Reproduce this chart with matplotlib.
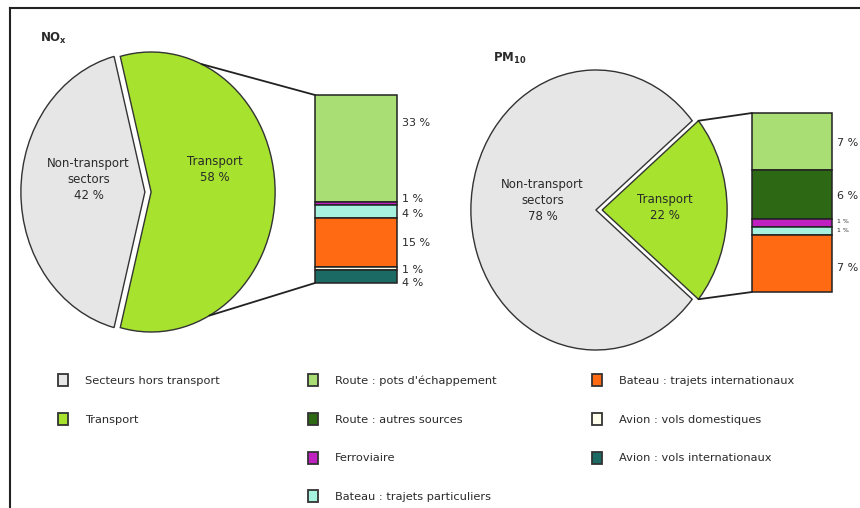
import numpy as np
import matplotlib
matplotlib.use('Agg')
import matplotlib.pyplot as plt
from matplotlib.patches import Patch, ConnectionPatch
from matplotlib.lines import Line2D

# ── Data ───────────────────────────────────────────────────────────
PIE_NAMES = ['Non-transport\nsectors', 'Transport']
NOX_SHARES = [42, 58]
PM10_SHARES = [78, 22]

SUB_NAMES = [
    "Route : pots d'échappement",
    'Route : autres sources',
    'Ferroviaire',
    'Bateau : trajets particuliers',
    'Bateau : trajets internationaux',
    'Avion : vols domestiques',
    'Avion : vols internationaux',
]
NOX_SUB = [33, 0, 1, 4, 15, 1, 4]
PM10_SUB = [7, 6, 1, 1, 7, 0, 0]

# ── Style ──────────────────────────────────────────────────────────
GREY = '#E6E6E6'
GREEN = '#A6E22E'
SUB_COLORS = ['#A9DE75', '#2D6914', '#C020C0', '#A6F2DF',
              '#FF6A13', '#FFFDEB', '#1B6B64']
EDGE = '#333333'
TXT = '#2A2A2A'

W, H = 860, 508
plt.rcParams['font.family'] = 'DejaVu Sans'

fig = plt.figure(figsize=(W / 100, H / 100), dpi=100)
fig.patch.set_facecolor('white')


def px_axes(x0, y0, x1, y1):
    return fig.add_axes([x0 / W, 1 - y1 / H, (x1 - x0) / W, (y1 - y0) / H])


def pie_axes(cx, cy, rx, ry, pad=1.2):
    ax = px_axes(cx - rx * pad, cy - ry * pad, cx + rx * pad, cy + ry * pad)
    return ax


def draw_pie(ax, shares, label_pos, pad=1.2, explode=0.025):
    grey_deg = shares[0] * 3.6
    start = 180 - grey_deg / 2
    ax.pie(shares, colors=[GREY, GREEN], startangle=start,
           explode=[explode, explode],
           wedgeprops=dict(edgecolor=EDGE, linewidth=1.0))
    ax.set_aspect('auto')
    ax.set_xlim(-pad, pad)
    ax.set_ylim(-pad, pad)
    ax.axis('off')
    for name, share, (lx, ly) in zip(PIE_NAMES, shares, label_pos):
        ax.text(lx, ly, f"{name}\n{share} %", ha='center', va='center',
                fontsize=8.5, color=TXT, linespacing=1.3)


def draw_bar(ax, values, label_y, fontsizes):
    total = sum(values)
    bottoms = np.concatenate([[0], np.cumsum(values)[:-1]])
    for v, b, c in zip(values, bottoms, SUB_COLORS):
        if v == 0:
            continue
        ax.bar(0, v, bottom=b, width=1, color=c, edgecolor='#222222',
               linewidth=1.1, clip_on=False)
    ax.set_xlim(-0.5, 0.5)
    ax.set_ylim(total, 0)
    ax.axis('off')
    nz = [v for v in values if v > 0]
    for v, y, fs in zip(nz, label_y, fontsizes):
        ax.text(0.56, y, f"{v} %", ha='left', va='center', fontsize=fs,
                color=TXT, clip_on=False)
    return total


# ── NOx ────────────────────────────────────────────────────────────
ax_nox = pie_axes(148, 192, 124, 140)
draw_pie(ax_nox, NOX_SHARES, [(-0.48, 0.09), (0.54, 0.16)])
ax_nox_bar = px_axes(315, 95, 397, 283)
nox_total = draw_bar(ax_nox_bar, NOX_SUB, [8.5, 32, 36.6, 45.6, 54, 58],
                     [8] * 6)

for ang, by in [(66, 0), (-62, nox_total)]:
    t = np.deg2rad(ang)
    con = ConnectionPatch(xyA=(0.025 + np.cos(t), np.sin(t)), coordsA=ax_nox.transData,
                          xyB=(-0.5, by), coordsB=ax_nox_bar.transData,
                          color='#222222', linewidth=1.3)
    fig.add_artist(con)

fig.text(40 / W, 1 - 38 / H, r'$\mathbf{NO_x}$', fontsize=8.5, color=TXT,
         ha='left', va='center')

# ── PM10 ───────────────────────────────────────────────────────────
ax_pm = pie_axes(599, 210, 125, 140)
draw_pie(ax_pm, PM10_SHARES, [(-0.45, 0.07), (0.53, 0.02)])
ax_pm_bar = px_axes(752, 113, 832, 292)
pm_total = draw_bar(ax_pm_bar, PM10_SUB, [3.7, 10.2, 13.3, 14.4, 19.0],
                    [8, 8, 4.5, 4.5, 8])

half = PM10_SHARES[1] * 3.6 / 2
for ang, by in [(half, 0), (-half, pm_total)]:
    t = np.deg2rad(ang)
    con = ConnectionPatch(xyA=(0.025 + np.cos(t), np.sin(t)), coordsA=ax_pm.transData,
                          xyB=(-0.5, by), coordsB=ax_pm_bar.transData,
                          color='#222222', linewidth=1.3)
    fig.add_artist(con)

fig.text(493 / W, 1 - 58 / H, r'$\mathbf{PM_{10}}$', fontsize=8.5, color=TXT,
         ha='left', va='center')

# ── Legend ─────────────────────────────────────────────────────────
legend_cols = [
    (58, [('Secteurs hors transport', GREY), ('Transport', GREEN)]),
    (308, list(zip(SUB_NAMES[:4], SUB_COLORS[:4]))),
    (592, list(zip(SUB_NAMES[4:], SUB_COLORS[4:]))),
]
for x0, items in legend_cols:
    handles = [Patch(facecolor=c, edgecolor=EDGE, linewidth=1.3, label=n)
               for n, c in items]
    fig.legend(handles=handles, loc='upper left',
               bbox_to_anchor=(x0 / W, 1 - 374 / H), frameon=False,
               fontsize=8.2, handlelength=0.85, handleheight=1.25,
               handletextpad=1.5, labelspacing=2.35, borderpad=0,
               borderaxespad=0, labelcolor=TXT)

# ── Frame ──────────────────────────────────────────────────────────
fig.add_artist(Line2D([10 / W, 1], [1 - 8 / H, 1 - 8 / H], color='#222222',
                      linewidth=1.5, transform=fig.transFigure))
fig.add_artist(Line2D([10 / W, 10 / W], [1 - 8 / H, 0], color='#222222',
                      linewidth=1.5, transform=fig.transFigure))

fig.savefig('out.png', dpi=100, facecolor='white')
